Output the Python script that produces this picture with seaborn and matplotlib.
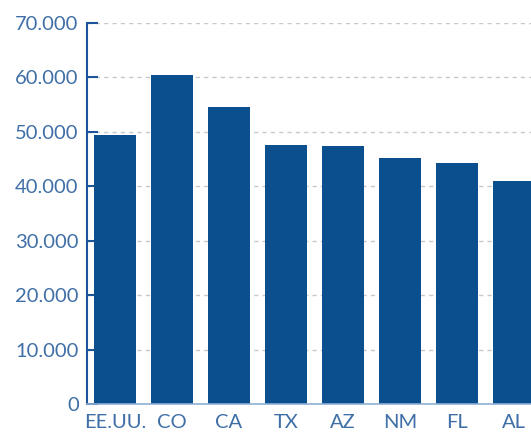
import pandas as pd
import seaborn as sns
import matplotlib.pyplot as plt
from matplotlib.ticker import FuncFormatter

# Values
states = ['EE.UU.', 'CO', 'CA', 'TX', 'AZ', 'NM', 'FL', 'AL']
values = [49400, 60500, 54600, 47600, 47400, 45200, 44300, 41000]
yticks = [0, 10000, 20000, 30000, 40000, 50000, 60000, 70000]

df = pd.DataFrame({'state': states, 'value': values})

sns.set_theme(style='white')
plt.rcParams['font.family'] = ['Lato', 'DejaVu Sans']

bar_color = '#0b4f8f'
label_color = '#3f6fa6'

fig = plt.figure(figsize=(5.31, 4.33), dpi=100)
ax = fig.add_axes([87 / 531, 29 / 433, 1 - 87 / 531, 381 / 433])

sns.barplot(data=df, x='state', y='value', color=bar_color, saturation=1,
            width=0.737, linewidth=0, ax=ax, zorder=2)

ax.set_xlim(-0.49, 7.30)
ax.set_ylim(0, 70000)
ax.set_yticks(yticks)
ax.yaxis.set_major_formatter(FuncFormatter(lambda v, p: f'{int(v):,}'.replace(',', '.')))
ax.grid(axis='y', color='#c8c8c8', linestyle=(0, (3, 3)), linewidth=1)
for line in ax.get_ygridlines():
    line.set_zorder(3)

ax.set_xlabel('')
ax.set_ylabel('')
for s in ['top', 'right']:
    ax.spines[s].set_visible(False)
ax.spines['left'].set_color('#1c5599')
ax.spines['left'].set_linewidth(1.5)
ax.spines['bottom'].set_color('#8fb0d6')
ax.spines['bottom'].set_linewidth(1.2)

ax.tick_params(axis='y', direction='in', length=8, width=1.5, color='#1c5599',
               labelsize=14.5, labelcolor=label_color, pad=6, left=True)
ax.tick_params(axis='x', length=0, labelsize=14.5, labelcolor=label_color, pad=7)

fig.savefig('out.png', dpi=100)
